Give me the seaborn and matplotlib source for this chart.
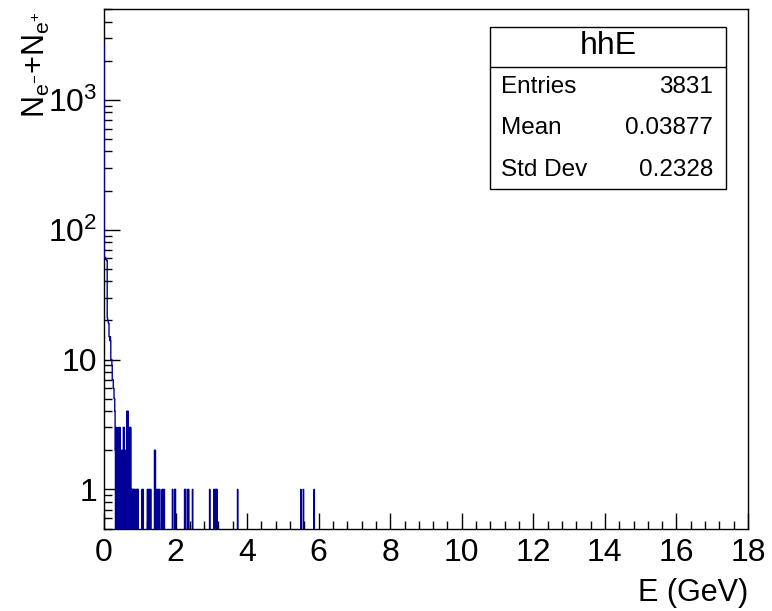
import numpy as np
import pandas as pd
import matplotlib
matplotlib.use('Agg')
import matplotlib.pyplot as plt
import seaborn as sns
from matplotlib.ticker import MultipleLocator, LogLocator, FixedLocator, FixedFormatter, NullFormatter
from matplotlib.patches import Rectangle
from matplotlib.lines import Line2D

# histogram hhE, bin width 0.01 GeV, only non-empty bins listed (lower edge in GeV)
bin_low = [0.00, 0.01, 0.02, 0.03, 0.04, 0.05, 0.06, 0.07, 0.08, 0.09,
           0.10, 0.11, 0.12, 0.13, 0.14, 0.15, 0.16, 0.17, 0.18, 0.19,
           0.20, 0.21, 0.22, 0.23, 0.24, 0.25, 0.26, 0.27, 0.28, 0.29,
           0.30, 0.31, 0.33, 0.34, 0.36, 0.38, 0.39, 0.41, 0.42, 0.44,
           0.45, 0.47, 0.49, 0.50, 0.52, 0.54, 0.56, 0.57, 0.59, 0.61,
           0.62, 0.64, 0.66, 0.67, 0.69, 0.71, 0.72, 0.74, 0.76, 0.78,
           0.79, 0.81, 0.83, 0.84, 0.86, 0.90, 0.91, 0.93, 0.95,
           1.06, 1.09, 1.21, 1.24, 1.27, 1.30, 1.41, 1.43, 1.46, 1.49,
           1.52, 1.55, 1.62, 1.65, 1.68, 1.91, 1.97, 1.99, 2.25, 2.27,
           2.33, 2.36, 2.47, 2.95, 3.07, 3.10, 3.13, 3.15, 3.73, 5.50,
           5.57, 5.87]
counts = [2700, 62, 61, 60, 60, 59, 60, 58, 58, 21,
          20, 20, 19, 19, 15, 15, 14, 15, 14, 10,
          10, 10, 9, 7, 7, 7, 6, 6, 5, 5,
          4, 2, 3, 1, 3, 2, 1, 3, 1, 3,
          2, 2, 1, 2, 1, 3, 3, 1, 2, 1,
          2, 4, 2, 4, 3, 1, 3, 3, 1, 1,
          1, 1, 1, 1, 1, 1, 1, 1, 1,
          1, 1, 1, 1, 1, 1, 2, 2, 1, 1,
          1, 1, 1, 1, 1, 1, 1, 1, 1, 1,
          1, 1, 1, 1, 1, 1, 1, 1, 1, 1,
          1, 1]

bin_width = 0.01
stats_names = ['Entries', 'Mean', 'Std Dev']
stats_values = ['3831', '0.03877', '0.2328']

df = pd.DataFrame({'E': np.array(bin_low) + bin_width / 2, 'n': counts})

sns.set_style('white')
plt.rcParams['font.family'] = ['Liberation Sans', 'DejaVu Sans']
plt.rcParams['mathtext.fontset'] = 'custom'
plt.rcParams['mathtext.rm'] = 'Liberation Sans'
plt.rcParams['mathtext.it'] = 'Liberation Sans:italic'
plt.rcParams['text.color'] = 'black'
plt.rcParams['axes.labelcolor'] = 'black'
plt.rcParams['xtick.color'] = 'black'
plt.rcParams['ytick.color'] = 'black'

fig = plt.figure(figsize=(7.72, 6.11), dpi=100)
ax = fig.add_axes([104 / 772, 1 - 528.5 / 611, 644 / 772, 519.5 / 611])

sns.histplot(data=df, x='E', weights='n', binwidth=bin_width, binrange=(0, 18),
             element='step', fill=False, color='#000099', linewidth=1.0, zorder=3, ax=ax)
ax.set_yscale('log')
ax.set_xlim(0, 18)
ax.set_ylim(0.5, 5000)

for s in ax.spines.values():
    s.set_color('black')
    s.set_linewidth(1.0)

ax.xaxis.set_major_locator(MultipleLocator(2))
ax.xaxis.set_minor_locator(MultipleLocator(0.4))
ax.yaxis.set_major_locator(FixedLocator([1, 10, 100, 1000]))
ax.yaxis.set_major_formatter(FixedFormatter(['1', '10', r'$\mathregular{10^{2}}$', r'$\mathregular{10^{3}}$']))
ax.yaxis.set_minor_locator(LogLocator(base=10, subs=np.arange(2, 10)))
ax.yaxis.set_minor_formatter(NullFormatter())
ax.tick_params(which='both', direction='in', bottom=True, left=True, top=False, right=False,
               color='black', labelcolor='black', width=1.0)
ax.tick_params(which='major', length=11.5, labelsize=23)
ax.tick_params(which='minor', length=5.8)
ax.tick_params(axis='x', which='major', pad=7)
ax.tick_params(axis='y', which='major', pad=5)

ax.set_xlabel('E (GeV)', fontsize=22, loc='right', color='black')
ax.xaxis.set_label_coords(1.0, -0.095)
ax.set_ylabel(r'$\mathregular{N_{e^{-}}{+}N_{e^{+}}}$', fontsize=22, loc='top', color='black')
ax.yaxis.set_label_coords(-0.08, 0.995)
ax.grid(False)

# stats box
bx0, bx1 = 490 / 772, 726 / 772
by0, by1 = 1 - 189 / 611, 1 - 26.7 / 611
fig.add_artist(Rectangle((bx0, by0), bx1 - bx0, by1 - by0, transform=fig.transFigure,
                         facecolor='white', edgecolor='black', linewidth=1.0))
sep = 1 - 66.7 / 611
fig.add_artist(Line2D([bx0, bx1], [sep, sep], transform=fig.transFigure, color='black', linewidth=1.0))
fig.text((bx0 + bx1) / 2, 1 - 46 / 611, 'hhE', fontsize=23, ha='center', va='center', color='black')
for i, (name, val) in enumerate(zip(stats_names, stats_values)):
    yy = 1 - (87 + 41.5 * i) / 611
    fig.text(501 / 772, yy, name, fontsize=17.5, ha='left', va='center', color='black')
    fig.text(713 / 772, yy, val, fontsize=17.5, ha='right', va='center', color='black')

fig.savefig('out.png', dpi=100)
